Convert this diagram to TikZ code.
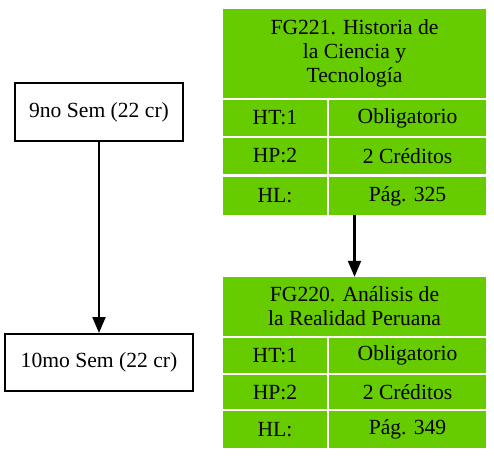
\documentclass[tikz,border=0pt]{standalone}
\usepackage{fontspec}
\setmainfont{Liberation Serif}
\usetikzlibrary{arrows.meta}
\definecolor{cellgreen}{RGB}{102,204,0}
\begin{document}
\begin{tikzpicture}[x=1pt,y=-1pt,
  font=\fontsize{21.6}{24}\selectfont,
  semnode/.style={draw=black, line width=2pt, inner sep=0pt},
  cell/.style={fill=cellgreen, draw=none, inner sep=0pt, align=center},
  edge/.style={line width=2.2pt, -{Triangle[length=16pt,width=13pt]}}]
\useasboundingbox (0,0) rectangle (494,457);
% semester boxes
\node[semnode, minimum width=168pt, minimum height=58pt] (s9) at (99,112) {9no Sem (22 cr)};
\node[semnode, minimum width=188pt, minimum height=57pt] (s10) at (99,362.5) {10mo Sem (22 cr)};
% table 1
\node[cell, minimum width=263pt, minimum height=89pt] (ah) at (354.5,53.5) {FG221. Historia de\\la Ciencia y\\Tecnología};
\node[cell, minimum width=104pt, minimum height=36pt] (a1l) at (275,118) {HT:1};
\node[cell, minimum width=157pt, minimum height=36pt] (a1r) at (407.5,118) {Obligatorio};
\node[cell, minimum width=104pt, minimum height=36pt] (a2l) at (275,156) {HP:2};
\node[cell, minimum width=157pt, minimum height=36pt] (a2r) at (407.5,156) {2 Créditos};
\node[cell, minimum width=104pt, minimum height=38pt] (a3l) at (275,196) {HL:};
\node[cell, minimum width=157pt, minimum height=38pt] (a3r) at (407.5,196) {Pág. 325};
% table 2
\node[cell, minimum width=263pt, minimum height=59pt] (bh) at (354.5,306.5) {FG220. Análisis de\\la Realidad Peruana};
\node[cell, minimum width=104pt, minimum height=35pt] (b1l) at (275,355.5) {HT:1};
\node[cell, minimum width=157pt, minimum height=35pt] (b1r) at (407.5,355.5) {Obligatorio};
\node[cell, minimum width=104pt, minimum height=34pt] (b2l) at (275,392) {HP:2};
\node[cell, minimum width=157pt, minimum height=34pt] (b2r) at (407.5,392) {2 Créditos};
\node[cell, minimum width=104pt, minimum height=37pt] (b3l) at (275,429.5) {HL:};
\node[cell, minimum width=157pt, minimum height=37pt] (b3r) at (407.5,429.5) {Pág. 349};
% edges
\draw[edge] (s9.south) -- (s10.north);
\coordinate (abot) at (ah.center |- a3r.south);
\draw[edge] (abot) -- (bh.north);
\end{tikzpicture}
\end{document}
